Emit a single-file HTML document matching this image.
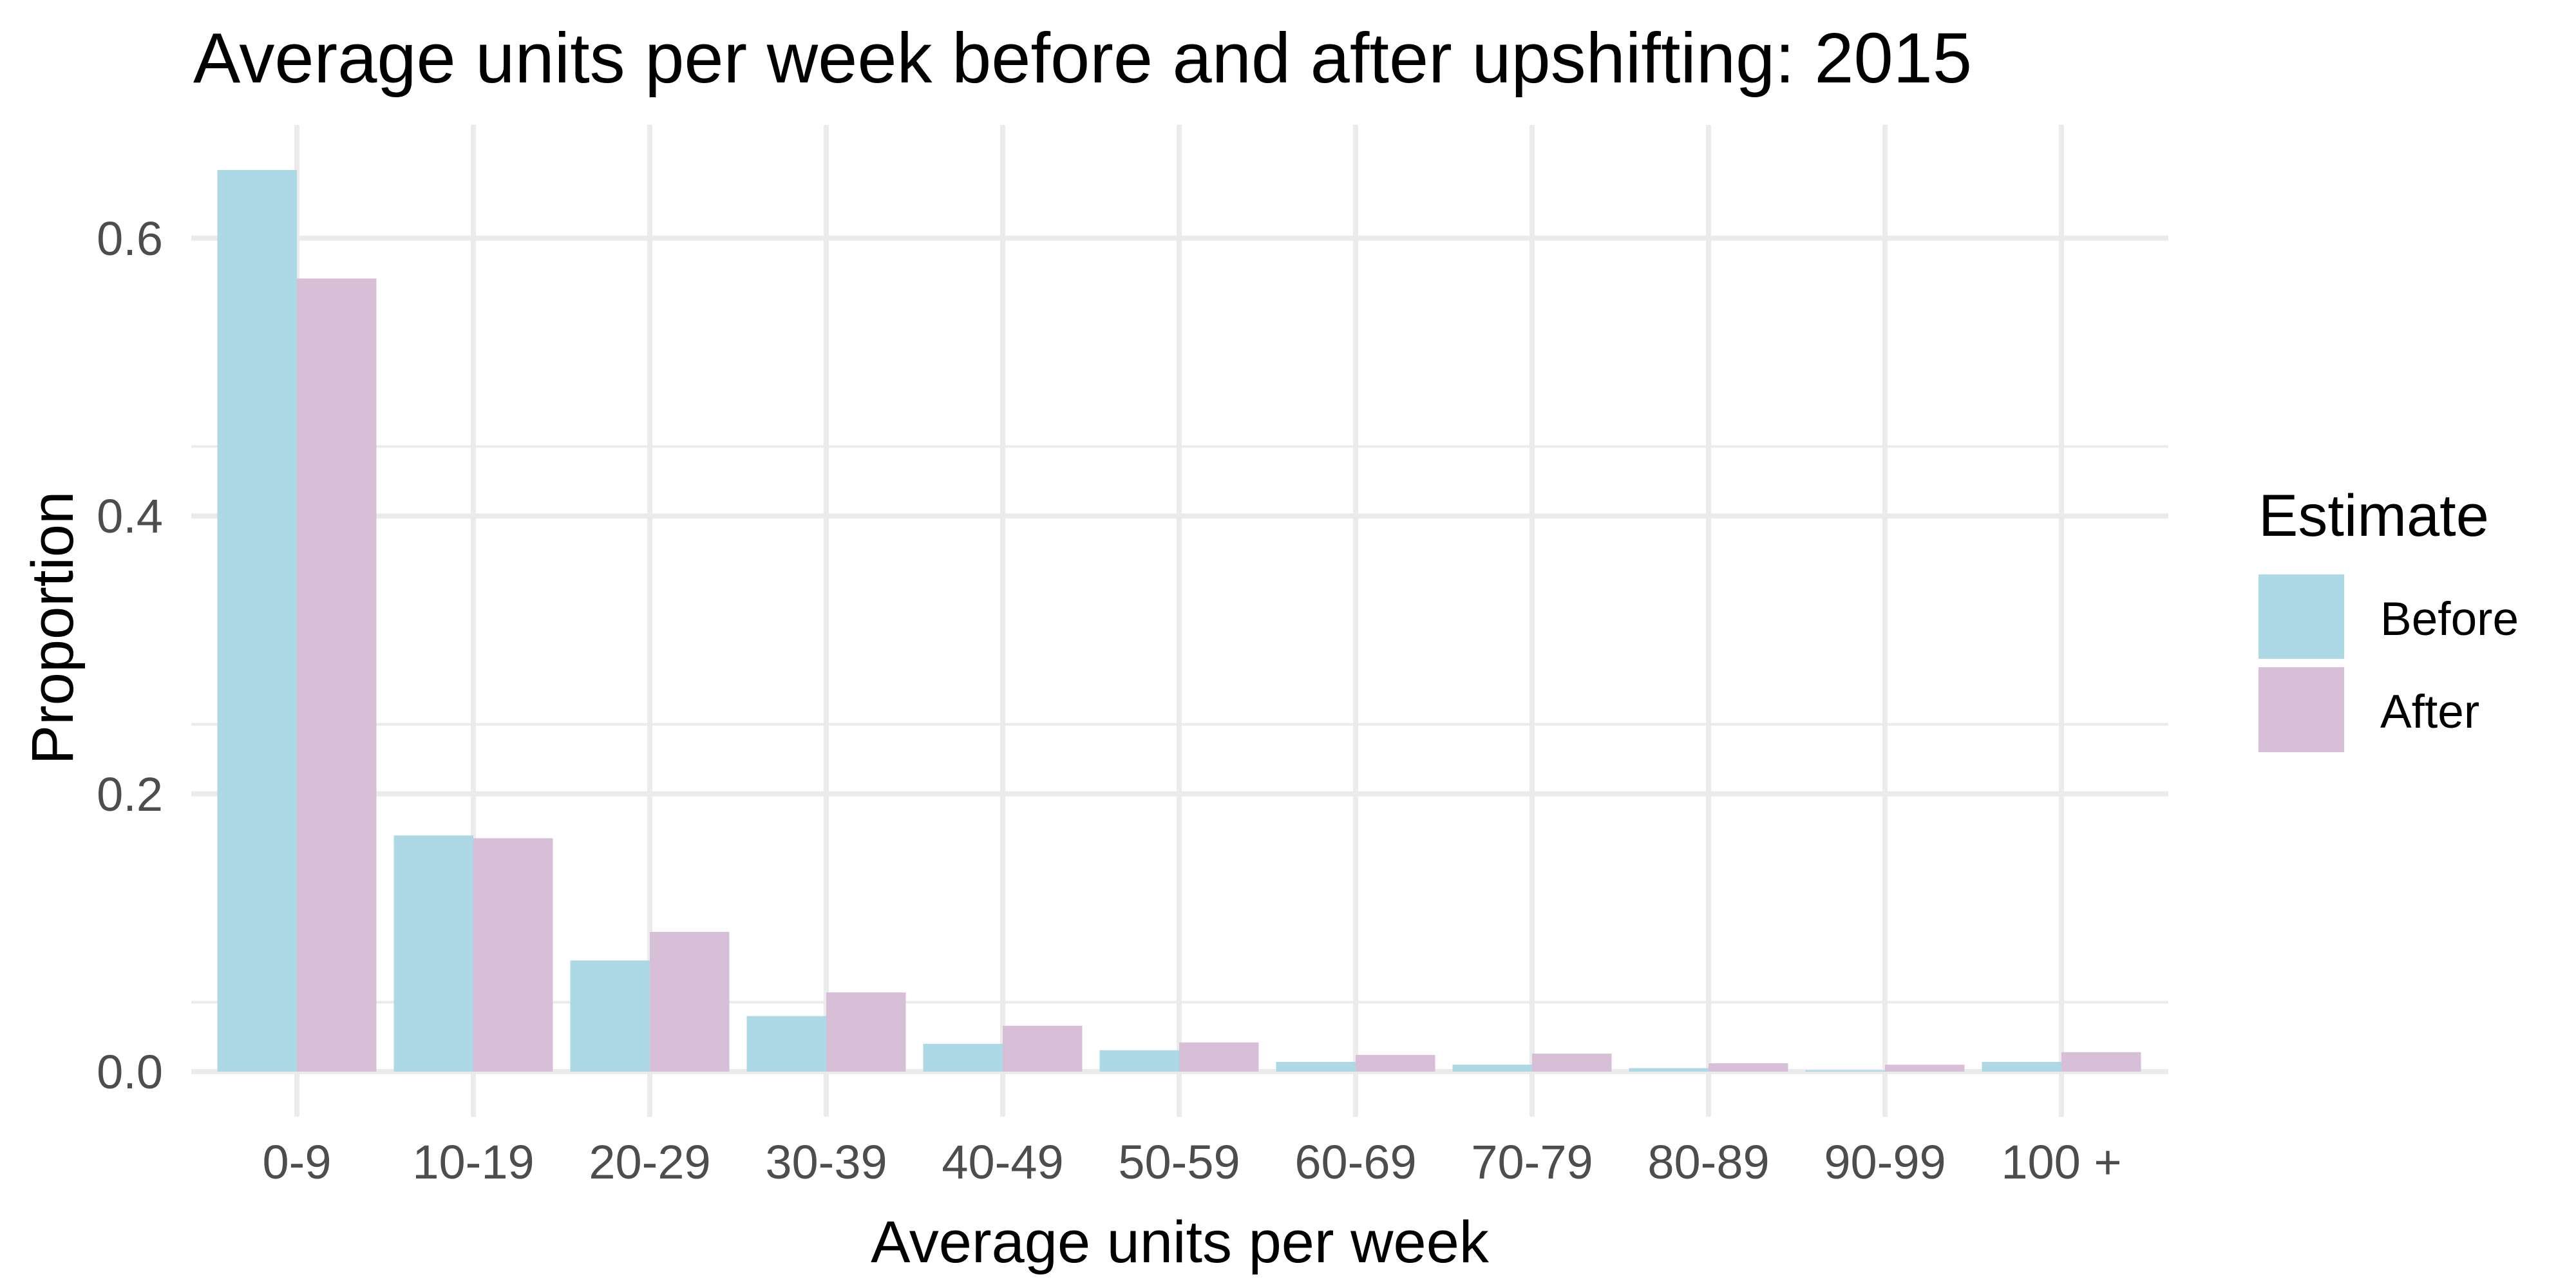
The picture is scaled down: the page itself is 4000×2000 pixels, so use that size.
<!DOCTYPE html>
<html><head><meta charset="utf-8"><style>html,body{margin:0;padding:0;background:#fff}svg{display:block}</style></head>
<body>
<svg width="4000" height="2000" viewBox="0 0 4000 2000" xmlns="http://www.w3.org/2000/svg" font-family="Liberation Sans, Arial, sans-serif">
<rect width="4000" height="2000" fill="#fff"/>
<g stroke="#EBEBEB">
  <g stroke-width="4">
    <line x1="297" x2="3367" y1="1556.2" y2="1556.2"/>
    <line x1="297" x2="3367" y1="1124.8" y2="1124.8"/>
    <line x1="297" x2="3367" y1="693.4" y2="693.4"/>
  </g>
  <g stroke-width="8">
    <line x1="297" x2="3367" y1="1664" y2="1664"/>
    <line x1="297" x2="3367" y1="1232.6" y2="1232.6"/>
    <line x1="297" x2="3367" y1="801.2" y2="801.2"/>
    <line x1="297" x2="3367" y1="369.8" y2="369.8"/>
    <line x1="461" x2="461" y1="194" y2="1734"/>
    <line x1="735" x2="735" y1="194" y2="1734"/>
    <line x1="1009" x2="1009" y1="194" y2="1734"/>
    <line x1="1283" x2="1283" y1="194" y2="1734"/>
    <line x1="1557" x2="1557" y1="194" y2="1734"/>
    <line x1="1831" x2="1831" y1="194" y2="1734"/>
    <line x1="2105" x2="2105" y1="194" y2="1734"/>
    <line x1="2379" x2="2379" y1="194" y2="1734"/>
    <line x1="2653" x2="2653" y1="194" y2="1734"/>
    <line x1="2927" x2="2927" y1="194" y2="1734"/>
    <line x1="3201" x2="3201" y1="194" y2="1734"/>
  </g>
</g>
<g fill="#ADD8E6">
  <rect x="337.5" y="264" width="123.5" height="1400"/>
  <rect x="611.5" y="1297.3" width="123.5" height="366.7"/>
  <rect x="885.5" y="1491.4" width="123.5" height="172.6"/>
  <rect x="1159.5" y="1577.7" width="123.5" height="86.3"/>
  <rect x="1433.5" y="1620.9" width="123.5" height="43.1"/>
  <rect x="1707.5" y="1630.8" width="123.5" height="33.2"/>
  <rect x="1981.5" y="1648.9" width="123.5" height="15.1"/>
  <rect x="2255.5" y="1653.2" width="123.5" height="10.8"/>
  <rect x="2529.5" y="1658.6" width="123.5" height="5.4"/>
  <rect x="2803.5" y="1661.8" width="123.5" height="2.2"/>
  <rect x="3077.5" y="1648.9" width="123.5" height="15.1"/>
</g>
<g fill="#D8BFD8">
  <rect x="461" y="432.4" width="123.5" height="1231.6"/>
  <rect x="735" y="1301.6" width="123.5" height="362.4"/>
  <rect x="1009" y="1447" width="123.5" height="217"/>
  <rect x="1283" y="1541.1" width="123.5" height="122.9"/>
  <rect x="1557" y="1592.8" width="123.5" height="71.2"/>
  <rect x="1831" y="1618.7" width="123.5" height="45.3"/>
  <rect x="2105" y="1638.1" width="123.5" height="25.9"/>
  <rect x="2379" y="1636" width="123.5" height="28"/>
  <rect x="2653" y="1651.1" width="123.5" height="12.9"/>
  <rect x="2927" y="1653.2" width="123.5" height="10.8"/>
  <rect x="3201" y="1633.8" width="123.5" height="30.2"/>
</g>
<g fill="#4D4D4D" font-size="74" text-anchor="end">
  <text x="253" y="1690">0.0</text>
  <text x="253" y="1259">0.2</text>
  <text x="253" y="827">0.4</text>
  <text x="253" y="396">0.6</text>
</g>
<g fill="#4D4D4D" font-size="74" text-anchor="middle">
  <text x="461" y="1830">0-9</text>
  <text x="735" y="1830">10-19</text>
  <text x="1009" y="1830">20-29</text>
  <text x="1283" y="1830">30-39</text>
  <text x="1557" y="1830">40-49</text>
  <text x="1831" y="1830">50-59</text>
  <text x="2105" y="1830">60-69</text>
  <text x="2379" y="1830">70-79</text>
  <text x="2653" y="1830">80-89</text>
  <text x="2927" y="1830">90-99</text>
  <text x="3201" y="1830">100 +</text>
</g>
<text x="1832" y="1960" font-size="92" text-anchor="middle" fill="#000">Average units per week</text>
<text transform="translate(113,975) rotate(-90)" font-size="92" text-anchor="middle" fill="#000">Proportion</text>
<text x="300" y="128" font-size="110" fill="#000">Average units per week before and after upshifting: 2015</text>
<text x="3507" y="832" font-size="92" fill="#000">Estimate</text>
<rect x="3507" y="892" width="133" height="131" fill="#ADD8E6"/>
<rect x="3507" y="1036" width="133" height="132" fill="#D8BFD8"/>
<text x="3696" y="986" font-size="73" fill="#000">Before</text>
<text x="3696" y="1130" font-size="73" fill="#000">After</text>
</svg>
</body></html>
